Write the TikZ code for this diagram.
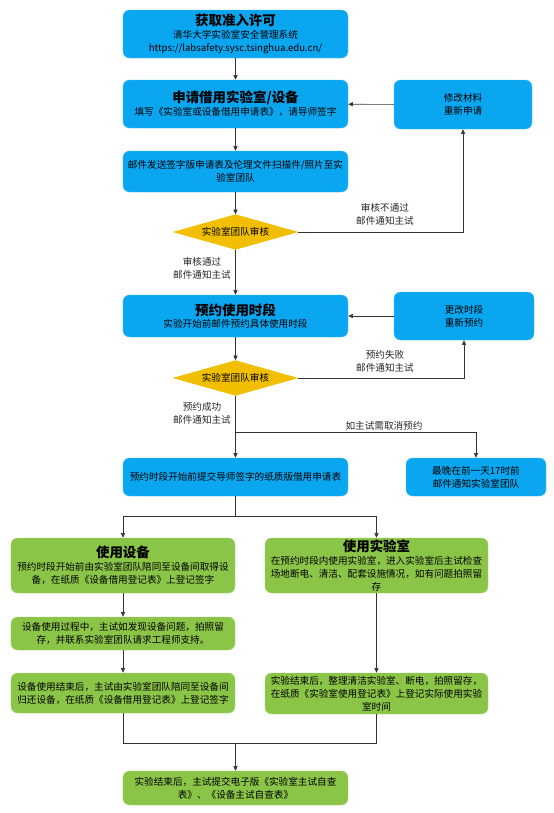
\documentclass[tikz,border=0pt]{standalone}
\usepackage{fontspec}
\setmainfont{Noto Sans CJK SC}
\usetikzlibrary{shapes.geometric,arrows.meta}
\definecolor{boxblue}{HTML}{0AA6F0}
\definecolor{boxgreen}{HTML}{8BC548}
\definecolor{diayellow}{HTML}{F2BF00}
\definecolor{linegray}{HTML}{333333}
\newcommand{\boxtitle}[1]{{\fontsize{11.5}{13}\selectfont\bfseries #1}}

\begin{document}
\begin{tikzpicture}[x=0.3mm, y=-0.3mm,
  every node/.style={font=\fontsize{8.2}{11}\selectfont, text=black},
  bluebox/.style={draw=boxblue!75!white, fill=boxblue, rounded corners=2mm,
    align=center, inner sep=1pt},
  greenbox/.style={draw=boxgreen!75!white, fill=boxgreen, rounded corners=2mm,
    align=center, inner sep=1pt},
  check/.style={diamond, aspect=3.5, draw=diayellow, fill=diayellow,
    minimum width=37.2mm, minimum height=10.5mm, inner sep=0pt},
  flow/.style={draw=linegray, line width=0.5pt, -{Triangle[length=4pt,width=3.5pt]}},
  plain/.style={draw=linegray, line width=0.5pt},
  lbl/.style={align=center, text=black!85}]

  \useasboundingbox (0,0) rectangle (554,813);

  % --- permesso e richiesta ---
  \node[bluebox, minimum width=67.5mm, minimum height=14.4mm] (permit) at (235.5,34)
    {\boxtitle{获取准入许可}\\清华大学实验室安全管理系统\\https://labsafety.sysc.tsinghua.edu.cn/};
  \node[bluebox, minimum width=67.5mm, minimum height=14.4mm] (apply) at (235.5,104)
    {\boxtitle{申请借用实验室/设备}\\填写《实验室或设备借用申请表》，请导师签字};
  \node[bluebox, minimum width=41.4mm, minimum height=14.7mm] (revise) at (463,104.5)
    {修改材料\\重新申请};
  \node[bluebox, minimum width=67.5mm, minimum height=12.3mm] (mail) at (235.5,171.5)
    {邮件发送签字版申请表及伦理文件扫描件/照片至实\\验室团队};
  \node[check] (check1) at (235.5,232) {实验室团队审核};

  % --- prenotazione ---
  \node[bluebox, minimum width=67.5mm, minimum height=12.6mm] (book) at (235.5,316)
    {\boxtitle{预约使用时段}\\实验开始前邮件预约具体使用时段};
  \node[bluebox, minimum width=42mm, minimum height=14.4mm] (rebook) at (464,316)
    {更改时段\\重新预约};
  \node[check] (check2) at (235.5,378) {实验室团队审核};
  \node[bluebox, minimum width=67.5mm, minimum height=11.4mm] (paper) at (235.5,477)
    {预约时段开始前提交导师签字的纸质版借用申请表};
  \node[bluebox, minimum width=42mm, minimum height=11.4mm] (cancel) at (476,477)
    {最晚在前一天17时前\\邮件通知实验室团队};

  % --- uso (verde) ---
  \node[greenbox, minimum width=67.2mm, minimum height=16.5mm] (device) at (123,565.5)
    {\boxtitle{使用设备}\\预约时段开始前由实验室团队陪同至设备间取得设\\备，在纸质《设备借用登记表》上登记签字};
  \node[greenbox, minimum width=66.9mm, minimum height=16.5mm] (room) at (376.5,565.5)
    {\boxtitle{使用实验室}\\在预约时段内使用实验室，进入实验室后主试检查\\场地断电、清洁、配套设施情况，如有问题拍照留\\存};
  \node[greenbox, minimum width=67.2mm, minimum height=9.9mm] (problem) at (123,633.5)
    {设备使用过程中，主试如发现设备问题，拍照留\\存，并联系实验室团队请求工程师支持。};
  \node[greenbox, minimum width=67.2mm, minimum height=12mm] (giveback) at (123,693)
    {设备使用结束后，主试由实验室团队陪同至设备间\\归还设备，在纸质《设备借用登记表》上登记签字};
  \node[greenbox, minimum width=66.9mm, minimum height=12.3mm] (cleanup) at (376.5,693.5)
    {实验结束后，整理清洁实验室、断电，拍照留存，\\在纸质《实验室使用登记表》上登记实际使用实验\\室时间};
  \node[greenbox, minimum width=67.5mm, minimum height=10.2mm] (selfcheck) at (235.5,788)
    {实验结束后，主试提交电子版《实验室主试自查\\表》、《设备主试自查表》};

  % --- punti di snodo ---
  \coordinate (fork) at (235.5,432);
  \coordinate (split) at (235.5,516);
  \coordinate (merge) at (235.5,743);

  % --- frecce ---
  \draw[flow] (permit) -- (apply);
  \draw[flow] (revise) -- (apply);
  \draw[flow] (apply) -- (mail);
  \draw[flow] (mail) -- (check1);
  \draw[flow] (check1.east) -| (revise.south);
  \draw[flow] (check1) -- (book);
  \draw[flow] (rebook) -- (book);
  \draw[flow] (book) -- (check2);
  \draw[flow] (check2.east) -| (rebook.south);
  \draw[flow] (check2) -- (paper);
  \draw[flow] (fork) -| (cancel.north);
  \draw[plain] (paper) -- (split);
  \draw[flow] (split) -| (device.north);
  \draw[flow] (split) -| (room.north);
  \draw[flow] (device) -- (problem);
  \draw[flow] (problem) -- (giveback);
  \draw[flow] (room) -- (cleanup);
  \draw[plain] (giveback.south) |- (merge);
  \draw[plain] (cleanup.south) |- (merge);
  \draw[flow] (merge) -- (selfcheck);

  % --- etichette ---
  \node[lbl] (nopass) at (385,214) {审核不通过\\邮件通知主试};
  \node[lbl] (pass) at (202,268) {审核通过\\邮件通知主试};
  \node[lbl] (fail) at (385,361) {预约失败\\邮件通知主试};
  \node[lbl] (ok) at (202,413) {预约成功\\邮件通知主试};
  \node[lbl] (drop) at (384,426) {如主试需取消预约};

\end{tikzpicture}
\end{document}
